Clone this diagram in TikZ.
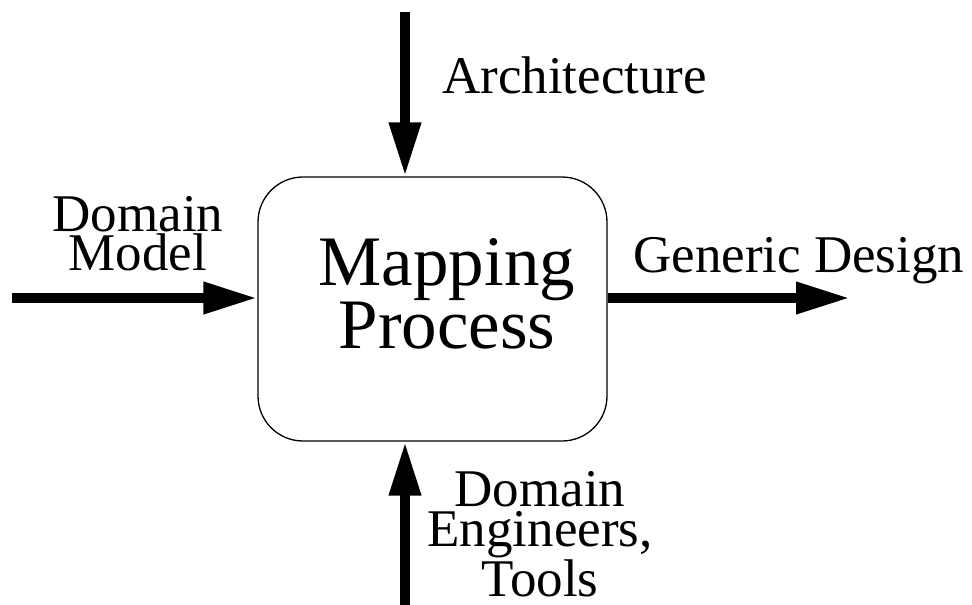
\documentclass[tikz,border=0pt]{standalone}
\usepackage{fontspec}
\setmainfont{Liberation Serif}
\usetikzlibrary{arrows.meta,calc}
\tikzset{
  flow/.style={line width=10pt, -{Triangle[length=54pt,width=30pt]}},
  procbox/.style={draw, line width=1.3pt, rounded corners=45pt, minimum width=349pt, minimum height=264pt, inner sep=0pt},
  lbl/.style={inner sep=0pt, align=center, font=\fontsize{53}{39}\selectfont},
  biglbl/.style={inner sep=0pt, align=center, font=\fontsize{71}{55}\selectfont}
}
\begin{document}
\begin{tikzpicture}[x=1pt,y=-1pt]
\useasboundingbox (0,0) rectangle (972,605);
\node[procbox] (mp) at (432.5,309) {};
\node[biglbl, anchor=base] (mptext) at (447,348) {Mapping\\Process};
\coordinate (dmstart) at (12,298);
\coordinate (archstart) at (405,12);
\coordinate (gdend) at (850,298);
\coordinate (destart) at (405,605);
\draw[flow] (dmstart) -- (dmstart -| mp.west);
\draw[flow] (archstart) -- (archstart |- mp.north);
\draw[flow] (gdend -| mp.east) -- (gdend);
\draw[flow] (destart) -- (destart |- mp.south);
\node[lbl, anchor=base] (dm) at (138,270) {Domain\\Model};
\node[lbl, anchor=base west] (arch) at (442,93) {Architecture};
\node[lbl, anchor=base west] (gd) at (633,272) {Generic Design};
\node[lbl, anchor=base, font=\fontsize{53}{40}\selectfont] (de) at (540,596) {Domain\\Engineers,\\Tools};
\end{tikzpicture}
\end{document}
